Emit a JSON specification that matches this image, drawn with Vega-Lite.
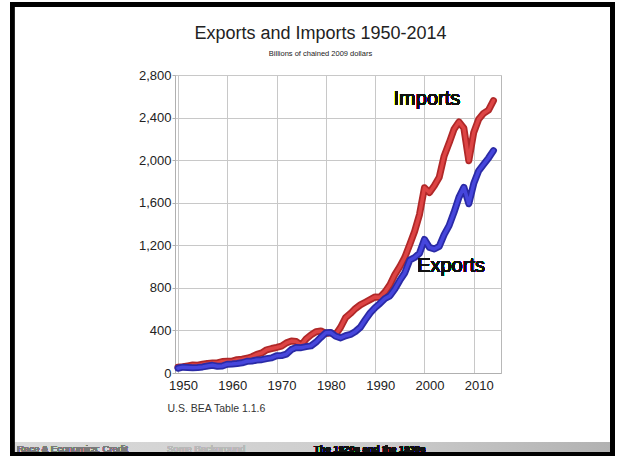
{
  "$schema": "https://vega.github.io/schema/vega-lite/v6.json",
  "autosize": "none",
  "width": 326,
  "height": 298,
  "padding": {"left": 175, "top": 75, "right": 118, "bottom": 83},
  "background": "white",
  "title": {
    "text": "Exports and Imports 1950-2014",
    "subtitle": "Billions of chained 2009 dollars",
    "font": "Liberation Sans",
    "fontSize": 18,
    "fontWeight": "normal",
    "color": "#222222",
    "subtitleFont": "Liberation Sans",
    "subtitleFontSize": 7.5,
    "subtitleColor": "#222222",
    "subtitlePadding": 7,
    "anchor": "middle",
    "frame": "group",
    "dx": -17.5,
    "offset": -55
  },
  "config": {
    "font": "Liberation Sans",
    "view": {"stroke": "#b8b8b8", "strokeWidth": 1},
    "axis": {
      "gridColor": "#c8c8c8",
      "gridWidth": 1,
      "domainColor": "#b0b0b0",
      "tickColor": "#b0b0b0",
      "labelFont": "Liberation Sans",
      "labelFontSize": 13,
      "labelColor": "#222222"
    }
  },
  "data": {
    "values": [
      {"year": 1950, "exports": 45, "imports": 55},
      {"year": 1951, "exports": 55, "imports": 60},
      {"year": 1952, "exports": 52, "imports": 67},
      {"year": 1953, "exports": 50, "imports": 75},
      {"year": 1954, "exports": 52, "imports": 73},
      {"year": 1955, "exports": 57, "imports": 82},
      {"year": 1956, "exports": 66, "imports": 90},
      {"year": 1957, "exports": 72, "imports": 93},
      {"year": 1958, "exports": 64, "imports": 95},
      {"year": 1959, "exports": 66, "imports": 108},
      {"year": 1960, "exports": 82, "imports": 110},
      {"year": 1961, "exports": 84, "imports": 111},
      {"year": 1962, "exports": 89, "imports": 125},
      {"year": 1963, "exports": 96, "imports": 130},
      {"year": 1964, "exports": 110, "imports": 138},
      {"year": 1965, "exports": 113, "imports": 153},
      {"year": 1966, "exports": 122, "imports": 175},
      {"year": 1967, "exports": 125, "imports": 188},
      {"year": 1968, "exports": 135, "imports": 218},
      {"year": 1969, "exports": 142, "imports": 230},
      {"year": 1970, "exports": 162, "imports": 240},
      {"year": 1971, "exports": 164, "imports": 252},
      {"year": 1972, "exports": 178, "imports": 283},
      {"year": 1973, "exports": 220, "imports": 300},
      {"year": 1974, "exports": 240, "imports": 295},
      {"year": 1975, "exports": 238, "imports": 262},
      {"year": 1976, "exports": 248, "imports": 320},
      {"year": 1977, "exports": 255, "imports": 358},
      {"year": 1978, "exports": 290, "imports": 388},
      {"year": 1979, "exports": 335, "imports": 395},
      {"year": 1980, "exports": 378, "imports": 372},
      {"year": 1981, "exports": 380, "imports": 378},
      {"year": 1982, "exports": 345, "imports": 362},
      {"year": 1983, "exports": 330, "imports": 430},
      {"year": 1984, "exports": 350, "imports": 520},
      {"year": 1985, "exports": 362, "imports": 560},
      {"year": 1986, "exports": 390, "imports": 605},
      {"year": 1987, "exports": 430, "imports": 640},
      {"year": 1988, "exports": 500, "imports": 665},
      {"year": 1989, "exports": 565, "imports": 690},
      {"year": 1990, "exports": 615, "imports": 715},
      {"year": 1991, "exports": 655, "imports": 712},
      {"year": 1992, "exports": 700, "imports": 762},
      {"year": 1993, "exports": 725, "imports": 830},
      {"year": 1994, "exports": 790, "imports": 925},
      {"year": 1995, "exports": 870, "imports": 1000},
      {"year": 1996, "exports": 940, "imports": 1085},
      {"year": 1997, "exports": 1060, "imports": 1205},
      {"year": 1998, "exports": 1085, "imports": 1330},
      {"year": 1999, "exports": 1125, "imports": 1490},
      {"year": 2000, "exports": 1255, "imports": 1740},
      {"year": 2001, "exports": 1180, "imports": 1695},
      {"year": 2002, "exports": 1165, "imports": 1760},
      {"year": 2003, "exports": 1190, "imports": 1840},
      {"year": 2004, "exports": 1300, "imports": 2040},
      {"year": 2005, "exports": 1385, "imports": 2160},
      {"year": 2006, "exports": 1510, "imports": 2290},
      {"year": 2007, "exports": 1650, "imports": 2360},
      {"year": 2008, "exports": 1745, "imports": 2300},
      {"year": 2009, "exports": 1590, "imports": 1995},
      {"year": 2010, "exports": 1780, "imports": 2260},
      {"year": 2011, "exports": 1900, "imports": 2385},
      {"year": 2012, "exports": 1960, "imports": 2440},
      {"year": 2013, "exports": 2020, "imports": 2470},
      {"year": 2014, "exports": 2090, "imports": 2560}
    ]
  },
  "encoding": {
    "x": {
      "field": "year",
      "type": "quantitative",
      "scale": {"domain": [1949.4, 2015.53], "nice": false, "zero": false},
      "axis": {
        "values": [1950, 1960, 1970, 1980, 1990, 2000, 2010],
        "format": "d",
        "ticks": false,
        "labelPadding": 6,
        "labelOffset": 5,
        "labelFlush": false,
        "title": "U.S. BEA Table 1.1.6",
        "titleFont": "Liberation Sans",
        "titleFontSize": 10.5,
        "titleFontWeight": "normal",
        "titleColor": "#333333",
        "titleAnchor": "start",
        "titleAlign": "left",
        "titleBaseline": "middle",
        "titleX": -8,
        "titleY": 35
      }
    }
  },
  "layer": [
    {
      "mark": {"type": "line", "color": "#b02828", "strokeWidth": 7, "strokeCap": "round", "strokeJoin": "round", "clip": false},
      "encoding": {
        "y": {
          "field": "imports",
          "type": "quantitative",
          "scale": {"domain": [0, 2800], "nice": false},
          "axis": {
            "values": [0, 400, 800, 1200, 1600, 2000, 2400, 2800],
            "format": ",.0f",
            "tickSize": 3,
            "labelPadding": 1,
            "title": null
          }
        }
      }
    },
    {
      "mark": {"type": "line", "color": "#dd4444", "strokeWidth": 3.5, "strokeCap": "round", "strokeJoin": "round", "clip": false},
      "encoding": {"y": {"field": "imports", "type": "quantitative"}}
    },
    {
      "mark": {"type": "line", "color": "#2a2aa6", "strokeWidth": 7, "strokeCap": "round", "strokeJoin": "round", "clip": false},
      "encoding": {"y": {"field": "exports", "type": "quantitative"}}
    },
    {
      "mark": {"type": "line", "color": "#4646dc", "strokeWidth": 3.5, "strokeCap": "round", "strokeJoin": "round", "clip": false},
      "encoding": {"y": {"field": "exports", "type": "quantitative"}}
    },
    {
      "mark": {"type": "text", "text": "Imports", "font": "Liberation Sans", "fontSize": 20, "color": "#111111", "align": "center", "baseline": "alphabetic"},
      "encoding": {"x": {"datum": 2000.5}, "y": {"datum": 2518}}
    },
    {
      "mark": {"type": "text", "text": "Exports", "font": "Liberation Sans", "fontSize": 20, "color": "#111111", "align": "center", "baseline": "alphabetic"},
      "encoding": {"x": {"datum": 2005.4}, "y": {"datum": 952}}
    },
    {
      "mark": {"type": "rect", "clip": false, "fill": {"gradient": "linear", "x1": 0, "y1": 0, "x2": 1, "y2": 0, "stops": [{"offset": 0, "color": "#dadada"}, {"offset": 0.6, "color": "#cdcdcd"}, {"offset": 1, "color": "#b2b2b2"}]}},
      "encoding": {"x": {"datum": 1916.74}, "x2": {"datum": 2037.84}, "y": {"datum": -648}, "y2": {"datum": -752}}
    },
    {
      "mark": {"type": "text", "text": "Race & Economics: Credit", "clip": false, "font": "Liberation Sans", "fontSize": 9.5, "color": "#7a7a7a", "align": "left", "baseline": "alphabetic"},
      "encoding": {"x": {"datum": 1917.35}, "y": {"datum": -745}}
    },
    {
      "mark": {"type": "text", "text": "Some Background", "clip": false, "font": "Liberation Sans", "fontSize": 9.5, "color": "#b8b8b8", "align": "left", "baseline": "alphabetic"},
      "encoding": {"x": {"datum": 1947.78}, "y": {"datum": -745}}
    },
    {
      "mark": {"type": "text", "text": "The 1920s and the 1930s", "clip": false, "font": "Liberation Sans", "fontSize": 9.5, "fontWeight": "bold", "color": "#111111", "align": "left", "baseline": "alphabetic"},
      "encoding": {"x": {"datum": 1977.6}, "y": {"datum": -745}}
    },
    {
      "mark": {"type": "rect", "clip": false, "fill": null, "fillOpacity": 0, "stroke": "#000000", "strokeWidth": 4},
      "encoding": {"x": {"datum": 1916.34}, "x2": {"datum": 2038.14}, "y": {"datum": 3464}, "y2": {"datum": -766}}
    }
  ]
}
